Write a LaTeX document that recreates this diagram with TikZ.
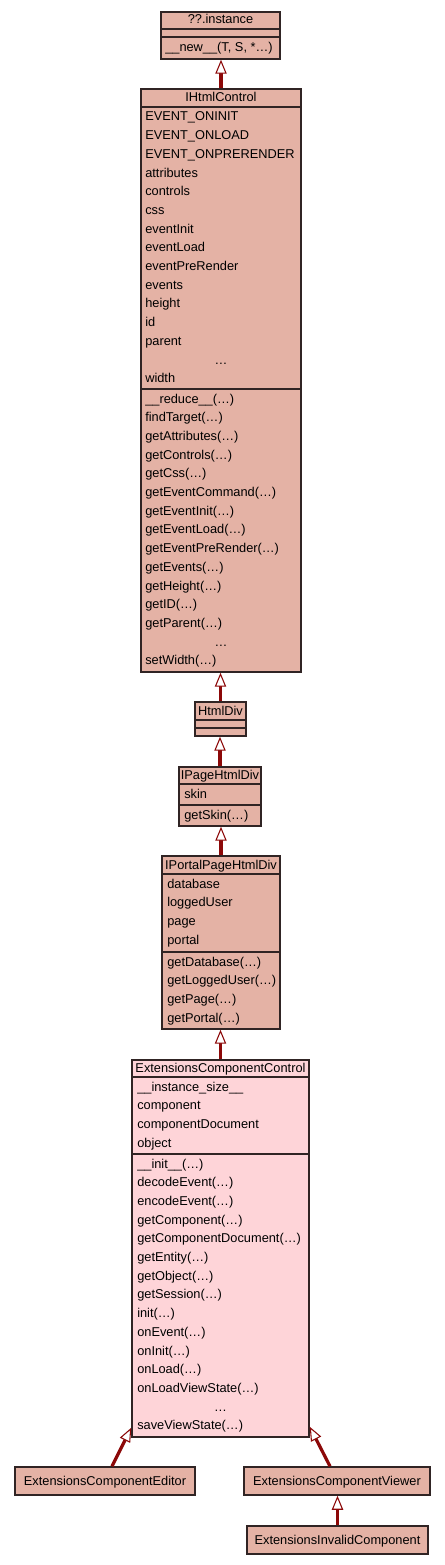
\documentclass[tikz,border=0pt]{standalone}
\usepackage{fontspec}
\setmainfont{Liberation Sans}
\usetikzlibrary{fit,arrows.meta}
\definecolor{salmon}{RGB}{228,178,165}
\definecolor{pinkc}{RGB}{254,212,216}
\definecolor{bord}{RGB}{48,36,36}
\definecolor{arrc}{RGB}{140,8,8}
\newcommand{\fnt}{\fontsize{9.6pt}{11pt}\selectfont}
\begin{document}
\begin{tikzpicture}[x=0.75pt,y=-0.75pt,
  cls/.style={draw=bord, line width=1.1pt, fill=salmon, inner sep=0pt},
  sepl/.style={draw=bord, line width=1.1pt},
  txt/.style={anchor=base west, inner sep=0pt, font=\fnt},
  ttl/.style={anchor=base, inner sep=0pt, font=\fnt},
  inh/.style={draw=arrc, line width=2.4pt, -{Triangle[length=10.5pt, width=8.5pt, line width=0.8pt, fill=white]}}]
\useasboundingbox[fill=white] (0,0) rectangle (445,1565);

% ??.instance
\node[cls, fit={(161,12)(280,59)}] (inst) {};
\draw[sepl] (161,29) -- (280,29);
\draw[sepl] (161,37) -- (280,37);
\node[ttl] (instT) at (220.5,24) {??.instance};
\node[txt] (instM) at (165,52) {\_\_new\_\_(T, S, *…)};

% IHtmlControl
\node[cls, fit={(141,89)(301,672)}] (ihc) {};
\draw[sepl] (141,107) -- (301,107);
\draw[sepl] (141,389) -- (301,389);
\node[ttl] (ihcT) at (221,102) {IHtmlControl};
\foreach \t [count=\i from 0] in {EVENT\_ONINIT,EVENT\_ONLOAD,EVENT\_ONPRERENDER,attributes,controls,css,eventInit,eventLoad,eventPreRender,events,height,id,parent}
  \node[txt] (ihcA\i) at (145,{121+18.7*\i}) {\t};
\node[ttl] (ihcAd) at (221,{121+18.7*13}) {…};
\node[txt] (ihcAw) at (145,{121+18.7*14}) {width};
\foreach \t [count=\i from 0] in {\_\_reduce\_\_(…),findTarget(…),getAttributes(…),getControls(…),getCss(…),getEventCommand(…),getEventInit(…),getEventLoad(…),getEventPreRender(…),getEvents(…),getHeight(…),getID(…),getParent(…)}
  \node[txt] (ihcM\i) at (145,{403+18.71*\i}) {\t};
\node[ttl] (ihcMd) at (221,{403+18.71*13}) {…};
\node[txt] (ihcMw) at (145,{403+18.71*14}) {setWidth(…)};

% HtmlDiv
\node[cls, fit={(195,702)(246,736)}] (hdiv) {};
\draw[sepl] (195,720) -- (246,720);
\draw[sepl] (195,728) -- (246,728);
\node[ttl] (hdivT) at (220.5,715) {HtmlDiv};

% IPageHtmlDiv
\node[cls, fit={(179,767)(261,826)}] (ipage) {};
\draw[sepl] (179,784) -- (261,784);
\draw[sepl] (179,805) -- (261,805);
\node[ttl] (ipageT) at (220,779) {IPageHtmlDiv};
\node[txt] (ipageA) at (184,798) {skin};
\node[txt] (ipageM) at (184,819) {getSkin(…)};

% IPortalPageHtmlDiv
\node[cls, fit={(162,856)(280,1029)}] (iportal) {};
\draw[sepl] (162,874) -- (280,874);
\draw[sepl] (162,952) -- (280,952);
\node[ttl] (iportalT) at (221,869) {IPortalPageHtmlDiv};
\foreach \t [count=\i from 0] in {database,loggedUser,page,portal}
  \node[txt] (iportalA\i) at (167,{888+18.7*\i}) {\t};
\foreach \t [count=\i from 0] in {getDatabase(…),getLoggedUser(…),getPage(…),getPortal(…)}
  \node[txt] (iportalM\i) at (167,{966+18.7*\i}) {\t};

% ExtensionsComponentControl
\node[cls, fill=pinkc, fit={(132,1060)(309,1437)}] (ecc) {};
\draw[sepl] (132,1077) -- (309,1077);
\draw[sepl] (132,1154) -- (309,1154);
\node[ttl] (eccT) at (220.5,1072) {ExtensionsComponentControl};
\foreach \t [count=\i from 0] in {\_\_instance\_size\_\_,component,componentDocument,object}
  \node[txt] (eccA\i) at (137,{1091+18.7*\i}) {\t};
\foreach \t [count=\i from 0] in {\_\_init\_\_(…),decodeEvent(…),encodeEvent(…),getComponent(…),getComponentDocument(…),getEntity(…),getObject(…),getSession(…),init(…),onEvent(…),onInit(…),onLoad(…),onLoadViewState(…)}
  \node[txt] (eccM\i) at (137,{1168+18.7*\i}) {\t};
\node[ttl] (eccMd) at (220.5,{1168+18.7*13}) {…};
\node[txt] (eccMs) at (137,{1168+18.7*14}) {saveViewState(…)};

% bottom classes
\node[cls, fit={(15,1467)(195,1495)}] (editor) {};
\node[ttl] (editorT) at (105,1485) {ExtensionsComponentEditor};
\node[cls, fit={(244,1467)(430,1495)}] (viewer) {};
\node[ttl] (viewerT) at (337,1485) {ExtensionsComponentViewer};
\node[cls, fit={(247,1526)(428,1554)}] (invalid) {};
\node[ttl] (invalidT) at (337.5,1544) {ExtensionsInvalidComponent};

% inheritance arrows
\draw[inh] (ihc.north) -- (ihc.north |- inst.south);
\draw[inh] (hdiv.north) -- (hdiv.north |- ihc.south);
\draw[inh] (ipage.north) -- (ipage.north |- hdiv.south);
\draw[inh] (iportal.north) -- (iportal.north |- ipage.south);
\draw[inh] (ecc.north) -- (ecc.north |- iportal.south);
\draw[inh] ([xshift=5.25pt]editor.north) -- ([yshift=7.5pt]ecc.south west);
\draw[inh] ([xshift=-5.25pt]viewer.north) -- ([yshift=8.25pt]ecc.south east);
\draw[inh] (invalid.north) -- (invalid.north |- viewer.south);
\end{tikzpicture}
\end{document}
